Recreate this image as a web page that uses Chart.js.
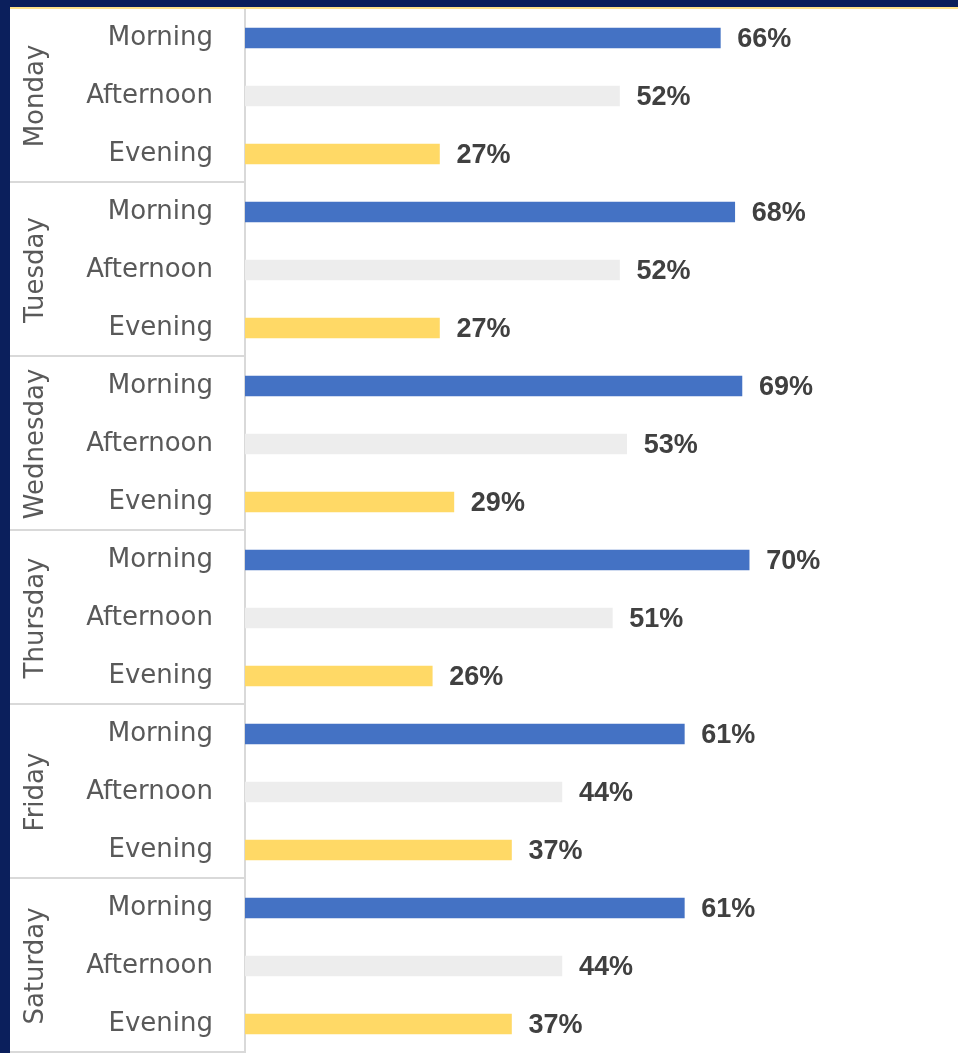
<!DOCTYPE html>
<html>
<head>
<meta charset="utf-8">
<script src="https://cdn.jsdelivr.net/npm/chart.js@4.4.0/dist/chart.umd.min.js"></script>
<style>
  html, body { margin: 0; padding: 0; background: #0b1f5c; }
  #frame {
    position: absolute; left: 10px; top: 7px; width: 948px; height: 1046px;
    border-top: 2px solid #ffe38a; background: #fff;
  }
  #wrap { position: relative; width: 948px; height: 1044px; }
</style>
</head>
<body>
<div id="frame"><div id="wrap"><canvas id="myChart"></canvas></div></div>
<script>
var days = ['Monday', 'Tuesday', 'Wednesday', 'Thursday', 'Friday', 'Saturday'];
var periods = ['Morning', 'Afternoon', 'Evening'];
var morning = [66, 68, 69, 70, 61, 61];
var afternoon = [52, 52, 53, 51, 44, 44];
var evening = [27, 27, 29, 26, 37, 37];
var periodColors = ['#4472c4', '#ededed', '#ffd966'];

// flatten into one row per day/period
var labels = [];
var values = [];
var colors = [];
days.forEach(function(d, i) {
  [morning[i], afternoon[i], evening[i]].forEach(function(v, j) {
    labels.push(periods[j]);
    values.push(v);
    colors.push(periodColors[j]);
  });
});

var groupPlugin = {
  id: 'groups',
  afterDraw: function(chart) {
    var ctx = chart.ctx;
    var y = chart.scales.y;
    var step = y.getPixelForValue(1) - y.getPixelForValue(0);
    ctx.save();
    ctx.strokeStyle = '#d9d9d9';
    ctx.lineWidth = 2;
    for (var g = 1; g <= days.length; g++) {
      var py = Math.round(y.getPixelForValue(g * 3 - 1) + step / 2) - 1;
      ctx.beginPath();
      ctx.moveTo(0, py);
      ctx.lineTo(chart.chartArea.left, py);
      ctx.stroke();
    }
    ctx.fillStyle = '#595959';
    ctx.font = '26px "DejaVu Sans", sans-serif';
    ctx.textAlign = 'center';
    ctx.textBaseline = 'middle';
    days.forEach(function(d, i) {
      var cy = y.getPixelForValue(i * 3 + 1);
      ctx.save();
      ctx.translate(26, cy);
      ctx.rotate(-Math.PI / 2);
      ctx.fillText(d, 0, 0);
      ctx.restore();
    });
    // value labels
    var meta = chart.getDatasetMeta(0);
    ctx.fillStyle = '#404040';
    ctx.font = 'bold 27px "Liberation Sans", Arial, sans-serif';
    ctx.textAlign = 'left';
    meta.data.forEach(function(bar, i) {
      ctx.fillText(values[i] + '%', bar.x + 17, bar.y + 2);
    });
    ctx.restore();
  }
};

var ctx = document.getElementById('myChart').getContext('2d');
var chart = new Chart(ctx, {
  type: 'bar',
  data: {
    labels: labels,
    datasets: [{
      data: values,
      backgroundColor: colors,
      barThickness: 20
    }]
  },
  options: {
    indexAxis: 'y',
    responsive: true,
    maintainAspectRatio: false,
    animation: false,
    layout: { padding: 0 },
    plugins: { legend: { display: false }, tooltip: { enabled: false } },
    scales: {
      x: { display: false, min: 0, max: 99 },
      y: {
        afterFit: function(s) {
          s.width = 235;
          s.paddingTop = 0;
          s.paddingBottom = 0;
        },
        grid: { display: false, drawTicks: false },
        border: { display: true, color: '#d9d9d9', width: 2 },
        ticks: {
          color: '#595959',
          padding: 32,
          font: { family: '"DejaVu Sans", sans-serif', size: 26 }
        }
      }
    }
  },
  plugins: [groupPlugin]
});
</script>
</body>
</html>
